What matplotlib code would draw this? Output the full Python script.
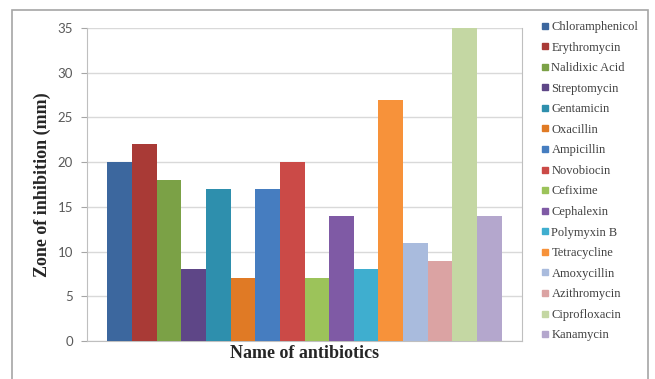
import matplotlib
matplotlib.use("Agg")
import matplotlib.pyplot as plt
from matplotlib.lines import Line2D
from matplotlib.patches import Rectangle

antibiotics = [
    "Chloramphenicol", "Erythromycin", "Nalidixic Acid", "Streptomycin",
    "Gentamicin", "Oxacillin", "Ampicillin", "Novobiocin", "Cefixime",
    "Cephalexin", "Polymyxin B", "Tetracycline", "Amoxycillin",
    "Azithromycin", "Ciprofloxacin", "Kanamycin",
]
zone_mm = [20, 22, 18, 8, 17, 7, 17, 20, 7, 14, 8, 27, 11, 9, 35, 14]
colors = [
    "#3C679E", "#A93A36", "#7BA146", "#5E4687", "#2E8FAD", "#E07A25",
    "#467DC0", "#CB4A47", "#9CC35A", "#7F5AA5", "#3FAECF", "#F7923A",
    "#A9BBDD", "#DBA3A3", "#C4D7A3", "#B4A7CD",
]
y_ticks = [0, 5, 10, 15, 20, 25, 30, 35]

W, H = 655, 379
fig = plt.figure(figsize=(W / 100, H / 100), dpi=100)
fig.patch.set_facecolor("white")

# outer chart frame
fig.add_artist(Rectangle((12 / W, -0.02), (648 - 12) / W, 1.02 - 10 / H,
                         transform=fig.transFigure, fill=False,
                         edgecolor="#A6A6A6", linewidth=1.2))

ax = fig.add_axes([87 / W, 1 - 341 / H, (522 - 87) / W, (341 - 28) / H])
x = list(range(len(zone_mm)))
ax.bar(x, zone_mm, width=1.0, color=colors, zorder=3)

ax.set_xlim(-0.5 - 0.83, len(zone_mm) - 0.5 + 0.83)
ax.set_ylim(0, 35)
ax.set_yticks(y_ticks)
ax.set_yticklabels([str(t) for t in y_ticks], fontfamily="Lato",
                   fontsize=9.5, color="#595959")
ax.set_xticks([])
ax.yaxis.grid(True, color="#D9D9D9", linewidth=1.0, zorder=0)
ax.tick_params(axis="y", length=4, color="#A6A6A6", pad=6)
ax.spines["top"].set_visible(False)
for side in ("left", "bottom", "right"):
    ax.spines[side].set_color("#BFBFBF")
ax.set_ylabel("Zone of inhibition (mm)", fontfamily="Liberation Serif",
              fontweight="bold", fontsize=13, color="#262626", labelpad=5)
ax.set_xlabel("Name of antibiotics", fontfamily="Liberation Serif",
              fontweight="bold", fontsize=13, color="#262626", labelpad=3)

handles = [Line2D([0], [0], marker="s", linestyle="none", markersize=4,
                  markerfacecolor=c, markeredgecolor=c) for c in colors]
fig.legend(handles, antibiotics, loc="upper left",
           bbox_to_anchor=(542 / W, 1 - 21 / H), frameon=False,
           prop={"family": "Liberation Serif", "size": 9},
           labelcolor="#404040", handlelength=0.5, handletextpad=0.25,
           labelspacing=0.685, borderaxespad=0, borderpad=0)

fig.savefig("out.png", dpi=100, facecolor="white")
